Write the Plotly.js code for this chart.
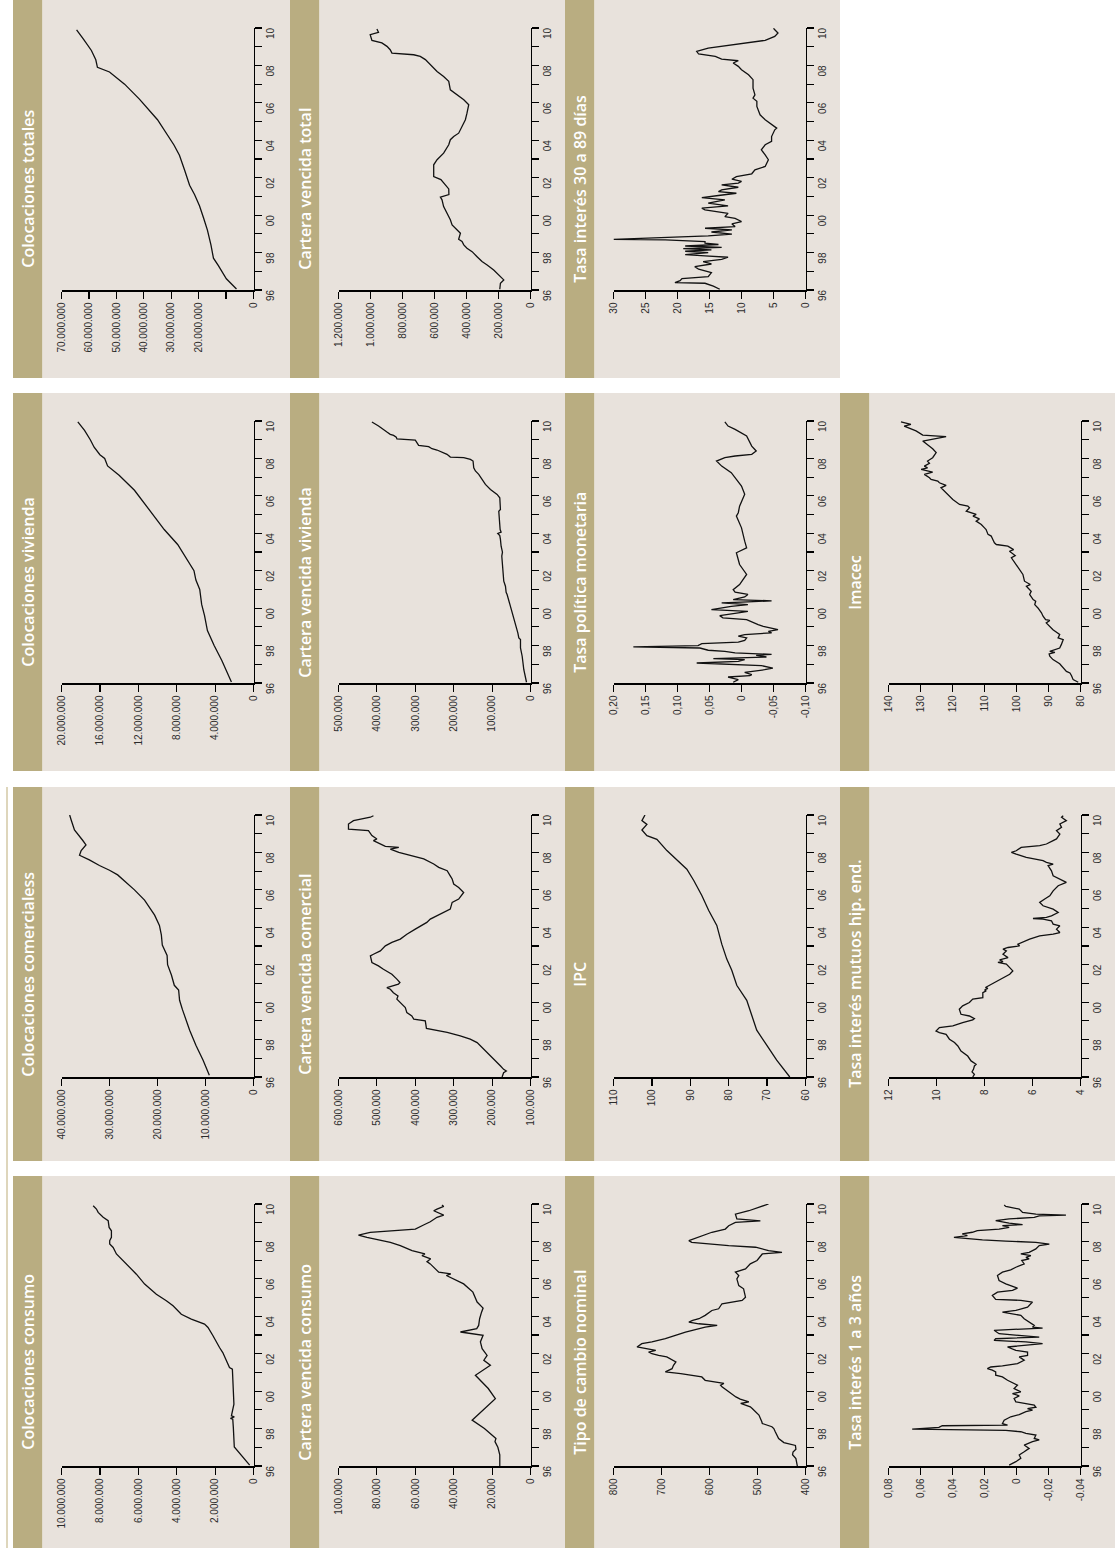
<!DOCTYPE html>
<html>
<head>
<meta charset="utf-8">
<script src="https://cdn.plot.ly/plotly-3.0.1.min.js"></script>
<style>
html,body{margin:0;padding:0;background:#ffffff;}
#chart{width:1118px;height:1548px;}
</style>
</head>
<body>
<div id="chart"></div>
<script>
// ---------------- time axis ----------------
const yearTicks = [1996,1997,1998,1999,2000,2001,2002,2003,2004,2005,2006,2007,2008,2009,2010];
const yearLabels = ['96','','98','','00','','02','','04','','06','','08','','10'];

// ---------------- Colocaciones consumo ----------------
const t_colConsumo = [1996.05,1997.02,1998.05,1998.50,1998.55,1998.62,1998.68,1999.30,2000.01,2001.17,2001.26,2001.53,2001.80,2002.06,2002.33,2002.69,2002.96,2003.40,2003.58,2003.85,2004.11,2004.56,2004.83,2005.18,2005.72,2006.25,2006.43,2006.97,2007.33,2007.68,2007.86,2008.04,2008.22,2008.57,2008.75,2009.11,2009.29,2009.55,2009.73,2009.91];
const v_colConsumo = [200000,1000000,1050000,1080000,1200000,1000000,1150000,1020000,1050000,1100000,1250000,1370000,1450000,1600000,1770000,1940000,2110000,2370000,2550000,3240000,3760000,4190000,4540000,5060000,5670000,6100000,6270000,6790000,7140000,7310000,7490000,7490000,7400000,7400000,7520000,7570000,7830000,8090000,8180000,8350000];
const tv_colConsumo = [0,2000000,4000000,6000000,8000000,10000000];
const tt_colConsumo = ['0','2.000.000','4.000.000','6.000.000','8.000.000','10.000.000'];

// ---------------- Cartera vencida consumo ----------------
const t_cvConsumo = [1996.0,1996.6,1997.0,1997.3,1997.47,1998.0,1998.45,1999.07,1999.6,2000.14,2000.85,2001.38,2001.65,2001.91,2002.27,2002.63,2002.98,2003.16,2003.34,2003.51,2003.87,2004.22,2004.44,2004.76,2005.29,2005.73,2006.0,2006.18,2006.27,2006.36,2006.8,2006.92,2007.07,2007.24,2007.33,2007.51,2007.78,2007.95,2008.22,2008.34,2008.48,2008.57,2008.66,2008.88,2009.05,2009.29,2009.41,2009.64,2009.73,2009.87,2009.94];
const v_cvConsumo = [16000,16000,17000,18500,18000,24000,30400,24000,18300,22000,28700,20900,24300,22600,25200,26100,24700,36500,28000,27000,26500,25500,24700,27800,30000,34800,40000,43800,41500,47800,52200,53900,52000,56500,55000,61700,67800,73000,85200,89600,83500,73000,60000,55700,52200,48700,45200,50400,48700,45200,46100];
const tv_cvConsumo = [0,20000,40000,60000,80000,100000];
const tt_cvConsumo = ['0','20.000','40.000','60.000','80.000','100.000'];

// ---------------- Tipo de cambio nominal ----------------
const t_tcn = [1996.0,1996.4,1996.6,1996.75,1996.9,1997.1,1997.25,1997.47,1997.83,1998.0,1998.1,1998.27,1998.36,1998.72,1999.07,1999.16,1999.25,1999.34,1999.43,1999.57,1999.69,1999.96,2000.23,2000.32,2000.41,2000.58,2000.76,2000.94,2001.03,2001.2,2001.38,2001.56,2001.83,2001.91,2002.0,2002.09,2002.18,2002.36,2002.54,2002.63,2002.8,2002.98,2003.16,2003.42,2003.51,2003.6,2003.69,2003.78,2003.87,2004.05,2004.31,2004.4,2004.67,2004.85,2005.02,2005.47,2005.64,2006.0,2006.18,2006.36,2006.53,2006.8,2006.98,2007.33,2007.42,2007.51,2007.69,2007.78,2007.95,2008.04,2008.22,2008.49,2008.66,2008.84,2009.02,2009.1,2009.2,2009.46,2009.64,2009.91,2010.0];
const v_tcn = [417,420,427,426,420,421,445,456,463,466,470,490,491,497,511,515,525,535,518,536,545,560,574,577,570,609,616,660,692,678,675,670,689,706,720,727,712,751,741,720,692,671,650,609,584,622,643,635,622,609,595,581,574,532,525,529,539,543,539,546,525,515,501,490,449,477,504,560,637,643,623,595,567,560,546,494,543,546,518,487,477];
const tv_tcn = [400,500,600,700,800];
const tt_tcn = ['400','500','600','700','800'];

// ---------------- Tasa interés 1 a 3 años ----------------
const t_t13 = [1996.05,1996.23,1996.41,1996.59,1996.76,1996.94,1997.12,1997.30,1997.39,1997.47,1997.65,1997.74,1997.83,1997.90,1997.97,1998.06,1998.15,1998.18,1998.27,1998.45,1998.63,1998.75,1998.90,1998.98,1999.07,1999.14,1999.25,1999.34,1999.43,1999.61,1999.75,1999.87,1999.96,2000.14,2000.32,2000.58,2000.76,2000.85,2001.03,2001.12,2001.20,2001.29,2001.35,2001.47,2001.65,2001.83,2001.91,2002.09,2002.18,2002.36,2002.48,2002.54,2002.63,2002.71,2002.80,2002.89,2003.07,2003.25,2003.37,2003.42,2003.51,2003.69,2003.87,2004.05,2004.22,2004.31,2004.49,2004.76,2004.85,2004.90,2005.11,2005.29,2005.38,2005.50,2005.73,2005.91,2006.18,2006.36,2006.48,2006.62,2006.80,2006.98,2007.07,2007.15,2007.24,2007.33,2007.42,2007.60,2007.78,2007.86,2007.95,2008.02,2008.08,2008.22,2008.31,2008.40,2008.49,2008.58,2008.66,2008.75,2008.84,2008.90,2008.98,2009.11,2009.20,2009.29,2009.37,2009.41,2009.46,2009.55,2009.73,2009.87,2009.94];
const v_t13 = [0.0046,0.0004,-0.0027,-0.0017,-0.0048,-0.0079,-0.0048,-0.0100,-0.0142,-0.0111,-0.0121,-0.0059,-0.0027,0.0067,0.0652,0.0485,0.0464,0.0056,0.0088,0.0077,0.0036,-0.0017,-0.0059,-0.0100,-0.0069,-0.0121,-0.0111,-0.0059,0.0004,0.0015,-0.0017,0.0025,-0.0027,0.0015,-0.0006,0.0056,0.0088,0.0130,0.0130,0.0151,0.0182,0.0161,0.0088,-0.0006,-0.0048,-0.0017,-0.0069,-0.0069,0.0004,0.0056,-0.0079,-0.0163,-0.0059,0.0140,0.0130,-0.0142,0.0109,0.0140,-0.0163,-0.0100,-0.0111,-0.0079,-0.0048,-0.0027,0.0088,0.0004,-0.0069,-0.0100,-0.0027,0.0130,0.0151,0.0119,0.0025,-0.0006,0.0067,0.0109,0.0119,0.0088,0.0036,0.0004,-0.0048,-0.0033,-0.0079,-0.0059,-0.0090,-0.0027,-0.0079,-0.0121,-0.0142,-0.0205,-0.0121,0.0067,0.0213,0.0391,0.0307,0.0339,0.0276,0.0245,0.0109,0.0046,0.0088,-0.0038,0.0046,0.0130,0.0046,-0.0111,-0.0142,-0.0309,-0.0121,-0.0038,-0.0017,0.0067,0.0077];
const tv_t13 = [-0.04,-0.02,0,0.02,0.04,0.06,0.08];
const tt_t13 = ['-0.04','-0,02','0','0,02','0,04','0,06','0,08'];

// ---------------- Colocaciones comerciales ----------------
const t_colCom = [1996.1,1996.9,1997.7,1998.5,1999.6,2000.1,2000.65,2000.9,2001.45,2002.0,2002.5,2003.05,2003.6,2004.1,2004.65,2005.45,2006.0,2006.5,2006.8,2007.05,2007.3,2007.6,2007.85,2008.1,2008.4,2008.65,2008.95,2009.2,2009.75,2010.0];
const v_colCom = [9200000,10500000,12000000,13300000,14800000,15400000,15600000,16500000,17100000,17900000,18000000,19000000,19200000,19600000,20600000,22700000,24800000,26900000,28300000,30000000,32100000,34200000,36250000,35900000,34900000,35600000,36600000,37300000,38000000,38300000];
const tv_colCom = [0,10000000,20000000,30000000,40000000];
const tt_colCom = ['0','10.000.000','20.000.000','30.000.000','40.000.000'];

// ---------------- Cartera vencida comercial ----------------
const t_cvCom = [1996.0,1996.23,1996.32,1996.41,1996.59,1996.77,1997.12,1997.48,1997.84,1998.02,1998.2,1998.38,1998.53,1998.6,1999.0,1999.09,1999.26,1999.44,1999.71,1999.98,2000.16,2000.33,2000.5,2000.69,2000.78,2000.96,2001.05,2001.23,2001.49,2001.76,2001.94,2002.12,2002.47,2002.56,2002.74,2003.01,2003.1,2003.19,2003.37,2003.63,2003.9,2004.08,2004.26,2004.44,2004.61,2004.79,2004.97,2005.33,2005.51,2005.86,2006.13,2006.31,2006.58,2006.75,2007.02,2007.2,2007.38,2007.65,2007.83,2008.0,2008.18,2008.27,2008.32,2008.45,2008.54,2008.63,2008.72,2008.9,2009.16,2009.25,2009.52,2009.7,2009.88,2009.96];
const v_cvCom = [174000,170000,163000,170000,178000,187000,204000,222000,239000,257000,283000,317000,361000,371000,374000,404000,409000,422000,426000,439000,448000,445000,457000,465000,474000,444000,440000,448000,461000,483000,496000,513000,517000,509000,491000,478000,470000,461000,439000,422000,400000,383000,370000,361000,343000,326000,309000,304000,287000,274000,287000,300000,304000,309000,317000,339000,352000,378000,413000,443000,465000,443000,478000,491000,500000,509000,500000,513000,522000,574000,574000,561000,517000,509000];
const tv_cvCom = [100000,200000,300000,400000,500000,600000];
const tt_cvCom = ['100.000','200.000','300.000','400.000','500.000','600.000'];

// ---------------- IPC ----------------
const t_ipc = [1996.0,1996.9,1997.7,1998.5,1999.3,2000.1,2000.9,2001.7,2002.3,2003.1,2004.1,2004.9,2005.7,2006.5,2007.1,2007.6,2008.1,2008.7,2008.9,2009.2,2009.5,2009.7,2010.0];
const v_ipc = [64.1,67.5,70.1,72.7,74.0,75.3,77.9,79.2,80.5,81.8,83.1,85.2,87.0,89.1,90.9,93.5,96.1,98.7,101.3,102.6,101.3,102.6,101.8];
const tv_ipc = [60,70,80,90,100,110];
const tt_ipc = ['60','70','80','90','100','110'];

// ---------------- Tasa interés mutuos hip. end. ----------------
const t_mut = [1996.0,1996.14,1996.27,1996.41,1996.59,1996.68,1996.86,1997.12,1997.39,1997.66,1997.84,1998.02,1998.28,1998.37,1998.46,1998.64,1998.73,1998.91,1999.05,1999.12,1999.26,1999.35,1999.62,1999.80,1999.98,2000.16,2000.24,2000.51,2000.60,2000.65,2000.73,2000.78,2001.05,2001.31,2001.49,2001.67,2001.85,2002.03,2002.12,2002.17,2002.26,2002.38,2002.56,2002.74,2002.83,2002.92,2003.01,2003.10,2003.37,2003.54,2003.63,2003.72,2003.90,2004.08,2004.17,2004.35,2004.44,2004.47,2004.53,2004.61,2004.79,2004.97,2005.15,2005.33,2005.51,2005.68,2005.95,2006.22,2006.40,2006.58,2006.75,2007.02,2007.29,2007.38,2007.47,2007.56,2007.74,2007.91,2008.0,2008.09,2008.27,2008.36,2008.45,2008.63,2008.72,2008.98,2009.16,2009.34,2009.52,2009.70,2009.88,2009.96];
const v_mut = [8.49,8.42,8.52,8.46,8.42,8.35,8.56,8.70,8.98,9.11,9.25,9.46,9.60,9.88,10.02,9.88,9.32,8.91,8.49,8.42,8.63,8.98,9.05,8.91,8.63,8.49,8.07,8.07,7.93,8.0,7.86,7.96,7.58,7.23,6.95,6.82,6.95,7.09,7.44,7.23,7.37,7.02,7.23,7.09,7.23,7.02,6.54,6.61,6.12,5.70,5.14,4.86,5.0,4.86,5.14,5.21,5.56,5.98,5.42,5.21,4.93,5.14,5.56,5.70,5.49,5.28,5.14,4.93,4.59,4.86,5.14,5.21,5.35,5.14,5.42,5.56,6.26,6.68,6.88,6.68,6.47,5.70,5.42,5.14,5.0,4.86,5.0,4.79,4.86,4.59,4.79,4.72];
const tv_mut = [4,6,8,10,12];
const tt_mut = ['4','6','8','10','12'];

// ---------------- Colocaciones vivienda ----------------
const t_colViv = [1996.05,1997.2,1998.0,1998.8,1999.6,2000.2,2001.0,2001.5,2002.0,2002.6,2003.4,2004.2,2005.2,2006.3,2007.1,2007.6,2008.0,2008.2,2008.6,2009.0,2009.5,2009.95];
const v_colViv = [2300000,3300000,4100000,4800000,5100000,5400000,5600000,6000000,6200000,6900000,7900000,9300000,10800000,12400000,14000000,15200000,15500000,16000000,16600000,17000000,17600000,18300000];
const tv_colViv = [0,4000000,8000000,12000000,16000000,20000000];
const tt_colViv = ['0','4.000.000','8.000.000','12.000.000','16.000.000','20.000.000'];

// ---------------- Cartera vencida vivienda ----------------
const t_cvViv = [1996.04,1996.71,1997.43,1997.82,1997.87,1998.32,1998.41,1998.68,1998.82,1999.03,1999.21,1999.48,1999.75,2000.10,2000.46,2000.73,2000.85,2001.17,2001.44,2001.80,2002.24,2002.51,2002.78,2002.99,2003.31,2003.67,2003.88,2003.99,2004.06,2004.20,2004.56,2004.92,2005.18,2005.27,2005.63,2005.90,2006.08,2006.34,2006.61,2006.88,2007.15,2007.33,2007.50,2007.86,2007.95,2008.04,2008.07,2008.22,2008.34,2008.45,2008.52,2008.63,2008.70,2008.84,2008.98,2009.04,2009.14,2009.23,2009.29,2009.41,2009.55,2009.73,2009.95];
const v_cvViv = [10400,17400,21700,24300,26100,26100,30400,33000,34800,39100,41700,45200,47800,52200,56500,60900,63500,65200,69600,71300,73000,73900,74800,73000,76500,78300,80000,85200,76500,79100,80900,80900,82600,78300,78300,80000,87000,104300,117400,126100,134800,143500,147800,149600,156500,173900,208700,217400,230400,243500,256500,265200,291300,295700,300000,347800,349600,356500,365200,373900,382600,395700,413000];
const tv_cvViv = [0,100000,200000,300000,400000,500000];
const tt_cvViv = ['0','100.000','200.000','300.000','400.000','500.000'];

// ---------------- Tasa política monetaria ----------------
const t_tpm = [1996.04,1996.18,1996.32,1996.39,1996.45,1996.57,1996.71,1996.80,1996.93,1997.03,1997.07,1997.16,1997.25,1997.30,1997.39,1997.48,1997.53,1997.61,1997.69,1997.75,1997.82,1997.87,1997.93,1998.00,1998.10,1998.18,1998.28,1998.41,1998.50,1998.59,1998.68,1998.76,1998.85,1998.94,1999.03,1999.12,1999.25,1999.39,1999.48,1999.60,1999.75,1999.83,1999.92,2000.01,2000.10,2000.19,2000.28,2000.33,2000.39,2000.46,2000.60,2000.73,2000.85,2000.99,2001.26,2001.80,2002.33,2002.96,2003.22,2003.58,2004.29,2004.92,2005.10,2005.45,2006.08,2006.52,2007.24,2007.59,2007.86,2008.04,2008.13,2008.22,2008.40,2008.66,2009.20,2009.55,2009.73,2009.95];
const v_tpm = [0.013,0.005,0.021,-0.013,-0.016,-0.005,-0.036,-0.049,-0.031,0.031,0.070,0.005,-0.005,0.044,-0.039,-0.023,-0.047,0.010,0.026,0.052,0.062,0.065,0.169,0.068,0.062,0.005,-0.005,-0.008,0.005,-0.005,-0.047,-0.042,-0.057,-0.044,-0.034,-0.026,-0.016,-0.008,0.029,0.034,0.005,-0.010,0.047,0.031,0.016,-0.010,0.031,-0.010,-0.047,0.013,-0.005,-0.010,0.010,0.013,0.003,-0.008,0.003,0.008,-0.008,-0.005,0.0,0.008,0.005,0.003,-0.005,0.0,0.016,0.031,0.039,0.026,0.010,-0.016,-0.023,-0.016,-0.008,0.010,0.021,0.026];
const tv_tpm = [-0.10,-0.05,0,0.05,0.10,0.15,0.20];
const tt_tpm = ['-0,10','-0,05','0','0,05','0,10','0,15','0,20'];

// ---------------- Imacec ----------------
const t_imacec = [1996.04,1996.18,1996.39,1996.54,1996.62,1996.80,1997.03,1997.25,1997.43,1997.55,1997.64,1997.69,1997.87,1998.05,1998.32,1998.41,1998.59,1998.85,1999.07,1999.21,1999.34,1999.39,1999.57,1999.75,2000.01,2000.19,2000.37,2000.46,2000.73,2000.90,2001.08,2001.17,2001.26,2001.44,2001.80,2002.06,2002.33,2002.69,2002.81,2002.92,2003.04,2003.13,2003.31,2003.40,2003.49,2003.67,2003.85,2003.94,2004.20,2004.29,2004.47,2004.65,2004.77,2004.92,2005.01,2005.18,2005.36,2005.45,2005.54,2005.81,2006.17,2006.34,2006.43,2006.56,2006.70,2006.79,2006.88,2006.97,2007.15,2007.27,2007.41,2007.50,2007.59,2007.74,2007.86,2008.04,2008.31,2008.52,2008.75,2008.93,2009.16,2009.25,2009.47,2009.73,2009.82,2009.95];
const v_imacec = [80.7,82.3,82.8,83.3,84.4,85.4,86.5,88.6,89.6,89.8,88.0,89.6,86.5,86.0,85.4,87.0,86.5,88.6,90.1,90.7,89.6,90.9,91.7,92.2,93.3,94.3,94.0,94.8,95.9,95.4,96.4,96.9,95.7,97.5,98.0,99.0,100.1,101.6,100.4,101.3,102.2,100.9,102.7,106.3,106.9,107.4,107.9,108.9,109.5,110.0,111.0,112.6,111.6,113.6,112.6,115.7,114.7,115.2,117.8,119.9,122.0,123.1,123.6,122.0,124.1,124.6,126.7,127.2,128.8,126.2,129.8,127.8,128.8,127.2,127.8,126.2,125.1,126.2,127.8,129.3,122.0,129.3,131.4,135.1,133.0,136.1];
const tv_imacec = [80,90,100,110,120,130,140];
const tt_imacec = ['80','90','100','110','120','130','140'];

// ---------------- Colocaciones totales ----------------
const t_colTot = [1996.05,1996.6,1997.3,1997.7,1998.4,1999.2,1999.85,2000.5,2001.1,2001.6,2002.4,2003.2,2003.75,2004.3,2005.1,2006.2,2007.0,2007.65,2007.9,2008.3,2008.8,2009.4,2009.9];
const v_colTot = [6200000,9900000,12800000,14600000,15500000,16800000,18200000,19700000,21500000,23300000,25100000,27000000,29000000,31500000,35000000,41600000,47000000,52500000,56900000,57500000,59100000,62000000,64500000];
const tv_colTot = [0,10000000,20000000,30000000,40000000,50000000,60000000,70000000];
const tt_colTot = ['0','','20.000.000','30.000.000','40.000.000','50.000.000','60.000.000','70.000.000'];

// ---------------- Cartera vencida total ----------------
const t_cvTot = [1996.04,1996.36,1996.54,1996.80,1997.07,1997.34,1997.52,1997.78,1998.05,1998.23,1998.41,1998.59,1998.71,1999.03,1999.21,1999.48,1999.75,2000.10,2000.46,2000.82,2000.96,2001.10,2001.40,2001.90,2002.06,2002.69,2002.96,2003.31,2003.58,2003.76,2004.03,2004.20,2004.38,2004.74,2005.10,2005.45,2005.90,2006.17,2006.43,2006.70,2007.15,2007.41,2007.68,2008.04,2008.31,2008.48,2008.57,2008.66,2008.84,2009.02,2009.20,2009.34,2009.64,2009.77,2009.95];
const v_cvTot = [192000,188000,167000,198000,230000,271000,303000,334000,365000,397000,417000,428000,449000,438000,459000,490000,501000,522000,543000,553000,563000,510000,511000,560000,605000,605000,584000,543000,522000,511000,501000,480000,449000,428000,407000,397000,386000,417000,459000,501000,511000,543000,584000,626000,657000,689000,730000,866000,877000,897000,929000,991000,1002000,950000,960000];
const tv_cvTot = [0,200000,400000,600000,800000,1000000,1200000];
const tt_cvTot = ['0','200.000','400.000','600.000','800.000','1.000.000','1.200.000'];

// ---------------- Tasa interés 30 a 89 días ----------------
const t_t3089 = [1996.04,1996.21,1996.36,1996.39,1996.50,1996.61,1996.71,1996.93,1997.11,1997.25,1997.39,1997.52,1997.64,1997.75,1997.82,1997.89,1998.00,1998.07,1998.14,1998.21,1998.28,1998.35,1998.43,1998.50,1998.59,1998.68,1998.71,1998.76,1998.82,1998.89,1998.99,1999.10,1999.21,1999.30,1999.39,1999.53,1999.66,1999.83,1999.92,2000.10,2000.28,2000.37,2000.49,2000.64,2000.82,2000.94,2001.05,2001.17,2001.26,2001.35,2001.49,2001.62,2001.71,2001.80,2001.92,2002.06,2002.21,2002.42,2002.60,2002.96,2003.22,2003.49,2003.76,2003.94,2004.20,2004.56,2004.65,2004.83,2005.10,2005.36,2005.81,2006.08,2006.25,2006.43,2006.79,2007.24,2007.50,2007.77,2007.95,2008.13,2008.25,2008.34,2008.48,2008.61,2008.75,2008.93,2009.11,2009.23,2009.34,2009.55,2009.73,2009.91,2009.98];
const v_t3089 = [13.4,14.4,15.7,20.4,19.6,19.3,15.2,14.7,16.7,17.3,14.7,16.0,13.1,12.1,15.7,18.8,15.2,18.8,14.7,19.1,13.1,18.8,13.6,15.7,15.7,21.9,30.0,26.1,22.5,15.2,11.5,14.7,11.5,15.7,11.0,11.5,10.0,11.0,12.6,12.1,15.7,16.2,12.1,15.2,12.6,16.2,13.6,10.8,13.6,13.1,10.5,13.1,10.5,10.0,11.5,10.8,8.4,7.9,6.3,5.8,6.3,6.9,6.3,5.3,5.3,4.8,4.5,5.3,6.3,7.1,7.6,7.6,8.2,7.9,8.2,8.2,8.9,10.0,10.5,11.3,10.5,13.1,14.1,16.7,17.0,15.2,11.5,8.4,6.3,4.8,4.3,4.8,5.0];
const tv_t3089 = [0,5,10,15,20,25,30];
const tt_t3089 = ['0','5','10','15','20','25','30'];

// ---------------- panel list (column 0..3, row group 0..3 from top) ----------------
const panels = [
  {title:'Colocaciones consumo',          t:t_colConsumo, v:v_colConsumo, tv:tv_colConsumo, tt:tt_colConsumo, col:0, grp:3},
  {title:'Cartera vencida consumo',       t:t_cvConsumo,  v:v_cvConsumo,  tv:tv_cvConsumo,  tt:tt_cvConsumo,  col:1, grp:3},
  {title:'Tipo de cambio nominal',        t:t_tcn,        v:v_tcn,        tv:tv_tcn,        tt:tt_tcn,        col:2, grp:3},
  {title:'Tasa interés 1 a 3 años',       t:t_t13,        v:v_t13,        tv:tv_t13,        tt:tt_t13,        col:3, grp:3},
  {title:'Colocaciones comercialess',     t:t_colCom,     v:v_colCom,     tv:tv_colCom,     tt:tt_colCom,     col:0, grp:2},
  {title:'Cartera vencida comercial',     t:t_cvCom,      v:v_cvCom,      tv:tv_cvCom,      tt:tt_cvCom,      col:1, grp:2},
  {title:'IPC',                           t:t_ipc,        v:v_ipc,        tv:tv_ipc,        tt:tt_ipc,        col:2, grp:2},
  {title:'Tasa interés mutuos hip. end.', t:t_mut,        v:v_mut,        tv:tv_mut,        tt:tt_mut,        col:3, grp:2},
  {title:'Colocaciones vivienda',         t:t_colViv,     v:v_colViv,     tv:tv_colViv,     tt:tt_colViv,     col:0, grp:1},
  {title:'Cartera vencida vivienda',      t:t_cvViv,      v:v_cvViv,      tv:tv_cvViv,      tt:tt_cvViv,      col:1, grp:1},
  {title:'Tasa política monetaria',       t:t_tpm,        v:v_tpm,        tv:tv_tpm,        tt:tt_tpm,        col:2, grp:1},
  {title:'Imacec',                        t:t_imacec,     v:v_imacec,     tv:tv_imacec,     tt:tt_imacec,     col:3, grp:1},
  {title:'Colocaciones totales',          t:t_colTot,     v:v_colTot,     tv:tv_colTot,     tt:tt_colTot,     col:0, grp:0},
  {title:'Cartera vencida total',         t:t_cvTot,      v:v_cvTot,      tv:tv_cvTot,      tt:tt_cvTot,      col:1, grp:0},
  {title:'Tasa interés 30 a 89 días',     t:t_t3089,      v:v_t3089,      tv:tv_t3089,      tt:tt_t3089,      col:2, grp:0}
];

// ---------------- page geometry (pixels) ----------------
const W = 1118, H = 1548;
const headerLeft  = [13, 290, 565, 840];
const headerW     = 29.5;
const panelRight  = [290, 565, 840, 1115];
const groupTop    = [0, 393, 787, 1176];
const groupBottom = [378, 771, 1161, 1548];
const TAN = '#b9ad81', BEIGE = '#e8e2dc';
const px = v => v / W;
const py = v => 1 - v / H;

const tickFont = {family:'Liberation Sans, Arial, sans-serif', size:10, color:'#2b2b2b'};
const traces = [], shapes = [], annotations = [];
const layout = {
  width:W, height:H, autosize:false,
  margin:{l:0,r:0,t:0,b:0,pad:0},
  paper_bgcolor:'#ffffff', plot_bgcolor:'rgba(0,0,0,0)',
  showlegend:false, separators:',.'
};

// thin rule on the left of the lower two rows
shapes.push({type:'line', xref:'paper', yref:'paper', x0:px(7), x1:px(7), y0:py(787), y1:py(1548),
  line:{color:'#d3c9a6', width:1.5}, layer:'below'});

panels.forEach((p, i) => {
  const n = i + 1;
  const hl = headerLeft[p.col], gt = groupTop[p.grp], gb = groupBottom[p.grp];
  shapes.push({type:'rect', xref:'paper', yref:'paper', x0:px(hl), x1:px(hl+headerW), y0:py(gb), y1:py(gt),
    fillcolor:TAN, line:{width:0}, layer:'below'});
  shapes.push({type:'rect', xref:'paper', yref:'paper', x0:px(hl+headerW), x1:px(panelRight[p.col]), y0:py(gb), y1:py(gt),
    fillcolor:BEIGE, line:{width:0}, layer:'below'});
  annotations.push({text:p.title, xref:'paper', yref:'paper', x:px(hl+headerW/2), y:py((gt+gb)/2),
    xanchor:'center', yanchor:'middle', textangle:-90, showarrow:false,
    font:{family:'Open Sans, sans-serif', size:16, color:'#ffffff', weight:600}});

  const xa = 'xaxis' + (n===1?'':n), ya = 'yaxis' + (n===1?'':n);
  const xr = 'x' + (n===1?'':n), yr = 'y' + (n===1?'':n);
  layout[xa] = {
    domain:[px(hl+48.5), px(hl+240.5)], anchor:yr,
    range:[p.tv[p.tv.length-1], p.tv[0]],
    tickmode:'array', tickvals:p.tv, ticktext:p.tt,
    ticks:'outside', ticklen:7, tickwidth:1.2, tickcolor:'#000',
    showline:true, linecolor:'#000', linewidth:1.5, mirror:false,
    showgrid:false, zeroline:false, tickangle:-90, tickfont:tickFont, fixedrange:true
  };
  layout[ya] = {
    domain:[py(gt+290), py(gt+28)], anchor:xr, side:'right',
    range:[1996, 2010],
    tickmode:'array', tickvals:yearTicks, ticktext:yearLabels,
    ticks:'outside', ticklen:7, tickwidth:1.2, tickcolor:'#000',
    showline:true, linecolor:'#000', linewidth:1.5, mirror:false,
    showgrid:false, zeroline:false, tickangle:-90, tickfont:tickFont,
    ticklabelshift:7, fixedrange:true
  };
  traces.push({x:p.v, y:p.t, xaxis:xr, yaxis:yr, type:'scatter', mode:'lines',
    line:{color:'#111111', width:1.3}, hoverinfo:'skip'});
});

layout.shapes = shapes;
layout.annotations = annotations;
Plotly.newPlot('chart', traces, layout, {staticPlot:true, displayModeBar:false});
</script>
</body>
</html>
